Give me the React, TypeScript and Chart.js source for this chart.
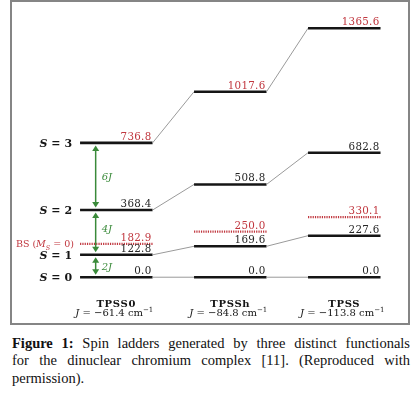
import React, { useEffect, useRef } from "react";
import { Chart, registerables } from "chart.js";
Chart.register(...registerables);

const functionals = ["TPSS0", "TPSSh", "TPSS"];
const couplingJ = ["−61.4", "−84.8", "−113.8"];
const spinLevelNames = ["0", "1", "2", "3"];
const energyS0 = [0.0, 0.0, 0.0];
const energyS1 = [122.8, 169.6, 227.6];
const energyS2 = [368.4, 508.8, 682.8];
const energyS3 = [736.8, 1017.6, 1365.6];
const energyBS = [182.9, 250.0, 330.1];
const gapLabels = ["2", "4", "6"];

const RED = "#c0363e";
const GREEN = "#3a8a3a";
const BLACK = "#151515";
const GREY = "#9a9a9a";
const HALF = 0.318;
const ARROW_X = -0.181;
const SERIF = '"DejaVu Serif", serif';

type Run = { text: string; font: string; dy?: number; color?: string };

function ladderPoints(values: number[]) {
  const pts: { x: number; y: number }[] = [];
  values.forEach((v, i) => {
    pts.push({ x: i - HALF, y: v });
    pts.push({ x: i + HALF, y: v });
  });
  return pts;
}

function drawRuns(ctx: CanvasRenderingContext2D, runs: Run[], x: number, y: number, align: "left" | "right" | "center", color: string, spacing = "0px") {
  ctx.save();
  (ctx as any).letterSpacing = spacing;
  ctx.textAlign = "left";
  ctx.textBaseline = "alphabetic";
  let total = 0;
  const widths = runs.map((r) => {
    ctx.font = r.font;
    const w = ctx.measureText(r.text).width;
    total += w;
    return w;
  });
  let cx = align === "left" ? x : align === "right" ? x - total : x - total / 2;
  runs.forEach((r, k) => {
    ctx.font = r.font;
    ctx.fillStyle = r.color || color;
    ctx.fillText(r.text, cx, y + (r.dy || 0));
    cx += widths[k];
  });
  ctx.restore();
}

const labelsPlugin = {
  id: "ladderLabels",
  afterDatasetsDraw(chart: any) {
    const ctx: CanvasRenderingContext2D = chart.ctx;
    const xs = chart.scales.x;
    const ys = chart.scales.y;
    const px = (v: number) => xs.getPixelForValue(v);
    const py = (v: number) => ys.getPixelForValue(v);

    // value labels
    const series = [energyS0, energyS1, energyS2, energyS3, energyBS];
    series.forEach((vals, s) => {
      const col = s >= 3 ? RED : "#262626";
      vals.forEach((v, i) => {
        drawRuns(ctx, [{ text: v.toFixed(1), font: `10.3px ${SERIF}` }], px(i + HALF) - 1, py(v) - 3, "right", col, "0.3px");
      });
    });

    // spin labels
    const levels = [energyS0, energyS1, energyS2, energyS3];
    levels.forEach((vals, k) => {
      drawRuns(
        ctx,
        [
          { text: "S", font: `italic bold 11px ${SERIF}` },
          { text: " = " + spinLevelNames[k], font: `bold 11px ${SERIF}` },
        ],
        px(-HALF) - 8,
        py(vals[0]) + 4,
        "right",
        BLACK
      );
    });

    // BS label
    drawRuns(
      ctx,
      [
        { text: "BS (", font: `9.5px ${SERIF}` },
        { text: "M", font: `italic 9.5px ${SERIF}` },
        { text: "S", font: `italic 6.5px ${SERIF}`, dy: 2.5 },
        { text: " = 0)", font: `9.5px ${SERIF}` },
      ],
      px(-HALF) - 6,
      py(energyBS[0]) + 3.5,
      "right",
      RED
    );

    // arrows
    const ax = px(ARROW_X);
    const pairs = [
      [energyS0[0], energyS1[0]],
      [energyS1[0], energyS2[0]],
      [energyS2[0], energyS3[0]],
    ];
    ctx.save();
    ctx.strokeStyle = GREEN;
    ctx.fillStyle = GREEN;
    ctx.lineWidth = 1.5;
    pairs.forEach(([lo, hi], k) => {
      const yb = py(lo) - 2.5;
      const yt = py(hi) + 2.5;
      ctx.beginPath();
      ctx.moveTo(ax, yb - 4);
      ctx.lineTo(ax, yt + 4);
      ctx.stroke();
      ctx.beginPath();
      ctx.moveTo(ax, yt);
      ctx.lineTo(ax - 3.5, yt + 5.5);
      ctx.lineTo(ax + 3.5, yt + 5.5);
      ctx.closePath();
      ctx.fill();
      ctx.beginPath();
      ctx.moveTo(ax, yb);
      ctx.lineTo(ax - 3.5, yb - 5.5);
      ctx.lineTo(ax + 3.5, yb - 5.5);
      ctx.closePath();
      ctx.fill();
      const mid = (py(lo) + py(hi)) / 2 + (k === 1 ? -4 : 0);
      drawRuns(
        ctx,
        [
          { text: gapLabels[k], font: `italic 10px ${SERIF}` },
          { text: "J", font: `italic 10px ${SERIF}` },
        ],
        ax + 6,
        mid + 3.5,
        "left",
        GREEN
      );
    });
    ctx.restore();

    // column labels
    functionals.forEach((name, i) => {
      drawRuns(ctx, [{ text: name, font: `bold 10px ${SERIF}` }], px(i), 304.5, "center", BLACK, "0.7px");
      drawRuns(
        ctx,
        [
          { text: "J", font: `italic 10px ${SERIF}` },
          { text: " = " + couplingJ[i] + " cm", font: `10px ${SERIF}` },
          { text: "−1", font: `7px ${SERIF}`, dy: -4 },
        ],
        px(i) - 2,
        314,
        "center",
        BLACK
      );
    });
  },
};

export default function App() {
  const ref = useRef<HTMLCanvasElement>(null);
  useEffect(() => {
    if (!ref.current) return;
    const levelSets = [energyS0, energyS1, energyS2, energyS3].map((vals, k) => ({
      label: "S = " + spinLevelNames[k],
      data: ladderPoints(vals),
      showLine: true,
      pointRadius: 0,
      borderColor: BLACK,
      borderWidth: 2.6,
      borderCapStyle: "butt",
      segment: {
        borderColor: (c: any) => (c.p0DataIndex % 2 === 0 ? BLACK : GREY),
        borderWidth: (c: any) => (c.p0DataIndex % 2 === 0 ? 2.6 : 1),
      },
    }));
    const bsSet = {
      label: "BS",
      data: ladderPoints(energyBS),
      showLine: true,
      pointRadius: 0,
      borderColor: RED,
      borderWidth: 2.2,
      borderDash: [1.2, 1.1],
      borderCapStyle: "butt",
      segment: {
        borderColor: (c: any) => (c.p0DataIndex % 2 === 0 ? RED : "rgba(0,0,0,0)"),
      },
    };
    const chart = new Chart(ref.current, {
      type: "scatter",
      data: { datasets: [...levelSets, bsSet] as any },
      options: {
        animation: false,
        responsive: false,
        devicePixelRatio: 1,
        layout: { padding: 0 },
        plugins: { legend: { display: false }, tooltip: { enabled: false } },
        scales: {
          x: { type: "linear", display: false, min: -0.915, max: 2.559 },
          y: { type: "linear", display: false, min: -251.2, max: 1509.6 },
        },
      } as any,
      plugins: [labelsPlugin],
    });
    return () => chart.destroy();
  }, []);

  return (
    <div style={{ position: "absolute", left: 0, top: 0, width: 415, height: 397, background: "#fff" }}>
      <div
        style={{
          position: "absolute",
          left: 10,
          top: 0,
          width: 400,
          height: 325,
          border: "2px solid #858585",
          boxSizing: "border-box",
        }}
      >
        <canvas ref={ref} width={396} height={321} style={{ display: "block", width: 396, height: 321 }} />
      </div>
      <div
        style={{
          position: "absolute",
          left: 12,
          top: 335,
          width: 398,
          font: '14.5px "Liberation Serif", serif',
          lineHeight: "17.3px",
          color: "#111",
        }}
      >
        <div style={{ textAlign: "justify", textAlignLast: "justify" } as any}>
          <b>Figure 1:</b> Spin ladders generated by three distinct functionals
        </div>
        <div style={{ textAlign: "justify", textAlignLast: "justify" } as any}>
          for the dinuclear chromium complex [11]. (Reproduced with
        </div>
        <div>permission).</div>
      </div>
    </div>
  );
}
